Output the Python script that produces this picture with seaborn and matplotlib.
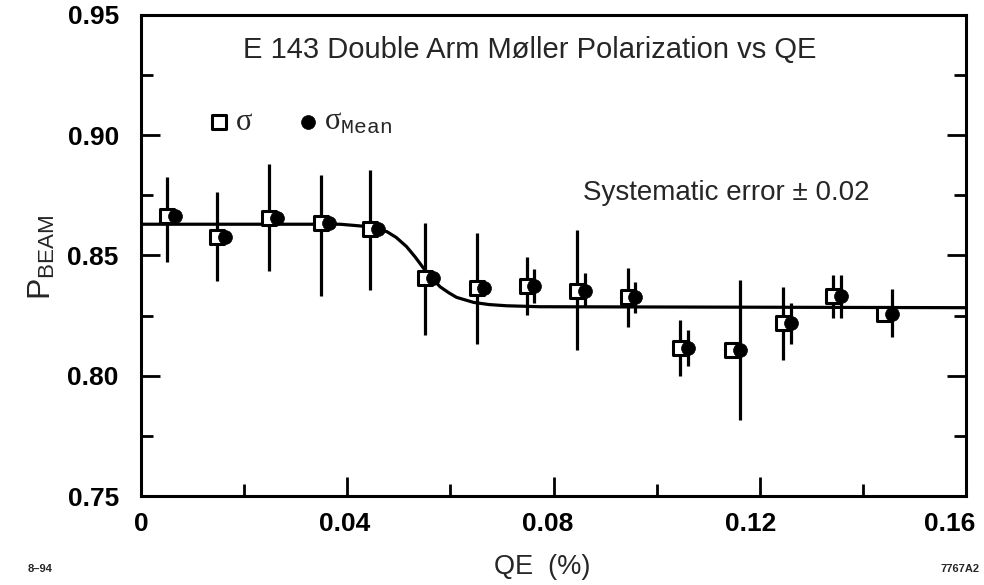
import numpy as np
import pandas as pd
import matplotlib
matplotlib.use("Agg")
import matplotlib.pyplot as plt
import matplotlib.transforms as mtransforms
import seaborn as sns

# ---- data ----
qe_sq = [0.0050, 0.0147, 0.0248, 0.0350, 0.0445, 0.0551, 0.0651, 0.0748,
         0.0846, 0.0944, 0.1045, 0.1146, 0.1245, 0.1342, 0.1441]
pol = [0.8664, 0.8577, 0.8657, 0.8634, 0.8610, 0.8405, 0.8366, 0.8373,
       0.8354, 0.8326, 0.8117, 0.8107, 0.8218, 0.8332, 0.8256]
qe_offset = 0.0015  # circles drawn just right of squares
# sigma error bar extents (NaN = not visible)
sig_lo = [0.8474, 0.8394, 0.8437, 0.8333, 0.8357, 0.8169, 0.8132, 0.8253,
          0.8107, 0.8201, 0.8000, np.nan, 0.8066, 0.8239, np.nan]
sig_hi = [0.8828, 0.8765, 0.8880, 0.8835, 0.8855, 0.8634, 0.8595, 0.8495,
          0.8606, 0.8449, 0.8232, np.nan, 0.8370, 0.8419, np.nan]
# sigma_mean error bar extents
mean_lo = [np.nan, np.nan, np.nan, np.nan, np.nan, np.nan, np.nan, 0.8301,
           0.8285, 0.8262, 0.8041, 0.7816, 0.8132, 0.8239, 0.8162]
mean_hi = [np.nan, np.nan, np.nan, np.nan, np.nan, np.nan, np.nan, 0.8443,
           0.8426, 0.8391, 0.8190, 0.8398, 0.8301, 0.8419, 0.8359]
# fit curve
curve_x = [0.0, 0.0386, 0.0430, 0.0455, 0.0477, 0.0495, 0.0515, 0.0532, 0.0548,
           0.0565, 0.0580, 0.0597, 0.0612, 0.0645, 0.0675, 0.0709, 0.0774, 0.16]
curve_y = [0.8630, 0.8630, 0.8622, 0.8612, 0.8599, 0.8575, 0.8537, 0.8493, 0.8447,
           0.8405, 0.8370, 0.8345, 0.8326, 0.8305, 0.8296, 0.8291, 0.8287, 0.8283]

x_ticks = [0, 0.04, 0.08, 0.12, 0.16]
x_ticklabels = ["0", "0.04", "0.08", "0.12", "0.16"]
y_ticks = [0.75, 0.80, 0.85, 0.90, 0.95]
y_ticklabels = ["0.75", "0.80", "0.85", "0.90", "0.95"]
legend_labels = [r"$\mathrm{\sigma}$", r"$\mathrm{\sigma}_{\mathtt{Mean}}$"]

sns.set_theme(style="ticks")
plt.rcParams['font.family'] = ['Liberation Sans', 'DejaVu Sans']
plt.rcParams['mathtext.fontset'] = 'custom'
plt.rcParams['mathtext.rm'] = 'Liberation Serif'
plt.rcParams['mathtext.it'] = 'Liberation Serif'
plt.rcParams['mathtext.tt'] = 'Liberation Mono'

df = pd.DataFrame({"qe": qe_sq, "pol": pol,
                   "qe_c": np.array(qe_sq) + qe_offset})
df_curve = pd.DataFrame({"x": curve_x, "y": curve_y})

fig = plt.figure(figsize=(9.84, 5.85), dpi=100)
ax = fig.add_axes([0.1433, 0.1521, 0.9817 - 0.1433, 0.9744 - 0.1521])

sns.lineplot(data=df_curve, x="x", y="y", ax=ax, color="black", lw=2.3,
             sort=False, estimator=None, zorder=2)

y = np.array(pol)
lo = np.array(sig_lo); hi = np.array(sig_hi)
m = ~np.isnan(lo)
ax.errorbar(np.array(qe_sq)[m], y[m], yerr=[y[m] - lo[m], hi[m] - y[m]],
            fmt="none", ecolor="black", elinewidth=2.3, capsize=0, zorder=3)
lo2 = np.array(mean_lo); hi2 = np.array(mean_hi)
m2 = ~np.isnan(lo2)
ax.errorbar(df["qe_c"].values[m2], y[m2], yerr=[y[m2] - lo2[m2], hi2[m2] - y[m2]],
            fmt="none", ecolor="black", elinewidth=2.3, capsize=0, zorder=3)

sns.scatterplot(data=df, x="qe", y="pol", ax=ax, marker="s", s=100,
                facecolor="white", edgecolor="black", linewidth=2.2, zorder=4,
                label=legend_labels[0])
sns.scatterplot(data=df, x="qe_c", y="pol", ax=ax, marker="o", s=100,
                color="black", edgecolor="black", linewidth=0.5, zorder=5,
                label=legend_labels[1])

handles, labels = ax.get_legend_handles_labels()
ax.legend(handles, labels, loc="center left",
          bbox_to_anchor=((210 - 141) / 825, (496 - 122) / 481),
          ncol=2, frameon=False, fontsize=22, handlelength=0.6,
          handletextpad=0.22, columnspacing=1.5, borderaxespad=0, borderpad=0,
          markerscale=1.0)

ax.set_xlim(0, 0.16)
ax.set_ylim(0.75, 0.95)
ax.set_xticks(x_ticks)
ax.set_xticklabels(x_ticklabels)
ax.set_yticks(y_ticks)
ax.set_yticklabels(y_ticklabels)
ax.set_xticks([0.02, 0.06, 0.10, 0.14], minor=True)
ax.set_yticks([0.775, 0.825, 0.875, 0.925], minor=True)
ax.tick_params(which="both", direction="in", width=2.0, colors="black",
               top=False, right=True, labelsize=19)
ax.tick_params(axis="x", which="both", pad=11.5)
ax.tick_params(axis="y", which="both", pad=16)
ax.tick_params(which="major", length=14)
ax.tick_params(which="minor", length=8.5)
for lab in ax.get_xticklabels() + ax.get_yticklabels():
    lab.set_fontweight("bold")
for sp in ax.spines.values():
    sp.set_visible(True)
    sp.set_linewidth(2.2)
    sp.set_color("black")

ax.set_xlabel("QE  (%)", fontsize=19.5)
ax.xaxis.label.set_va("center")
ax.xaxis.set_label_coords((542 - 141) / 825, (496 - 567) / 481)
ax.set_ylabel(r"P$_{\mathregular{BEAM}}$", fontsize=23)
ax.yaxis.label.set_va("center")
ax.yaxis.set_label_coords((42 - 141) / 825, (496 - 257) / 481)

ax.text((530 - 141) / 825, (496 - 50) / 481,
        "E 143 Double Arm Møller Polarization vs QE",
        transform=ax.transAxes, ha="center", va="center", fontsize=21)
ax.text((583 - 141) / 825, (496 - 193) / 481, "Systematic error \u00b1 0.02",
        transform=ax.transAxes, fontsize=20, ha="left", va="center")

fig.text(40 / 984, 1 - 569 / 585, "8\u201394", fontsize=8, fontweight="bold",
         ha="center", va="center")
fig.text(960 / 984, 1 - 569 / 585, "7767A2", fontsize=8, fontweight="bold",
         ha="center", va="center")

# small leftward shifts of x tick labels, as in the reference
shifts_px = [0, -3, -6, -9, -16]
for lab, dx in zip(ax.get_xticklabels(), shifts_px):
    lab.set_transform(lab.get_transform() +
                      mtransforms.ScaledTranslation(dx / 100, 0, fig.dpi_scale_trans))

fig.savefig("out.png", dpi=100)
